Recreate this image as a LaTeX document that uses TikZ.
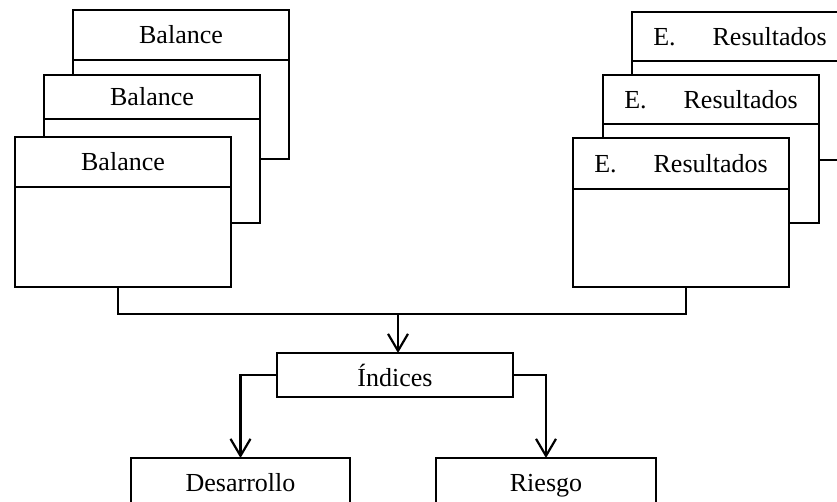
\documentclass[tikz,border=0pt]{standalone}
\usepackage{fontspec}
\setmainfont{Liberation Serif}
\usetikzlibrary{positioning,arrows.meta}

\begin{document}
\begin{tikzpicture}
          [x=1pt,y=-1pt,
          font=\fontsize{26}{30}\selectfont,
          head/.style={shape=rectangle,draw=black,fill=white,line width=2.2pt,outer sep=0pt,inner sep=0pt,minimum width=216pt,minimum height=50pt,anchor=north west},
          sheet/.style={shape=rectangle,draw=black,fill=white,line width=2.2pt,outer sep=0pt,inner sep=0pt,minimum width=216pt,minimum height=100pt,below=0pt of #1},
          box/.style={shape=rectangle,draw=black,fill=white,line width=2.2pt,outer sep=0pt,inner sep=0pt,minimum height=52pt},
          arc/.style={-{Straight Barb[length=17pt,width=20pt]},line width=2.2pt},
          edge/.style={line width=2.2pt}]

            \useasboundingbox (0,0) rectangle (837,501);
            \clip (0,0) rectangle (837,501);

            % left stack
            \node (balA) [head] at (73,10) {Balance\hspace{12pt}};
            \node (balAb) [sheet=balA,minimum height=99pt] {};
            \node (balB) [head,minimum height=44pt] at (44,75) {Balance\hspace{12pt}};
            \node (balBb) [sheet=balB,minimum height=104pt] {};
            \node (balC) [head] at (15,137) {Balance\hspace{12pt}};
            \node (balCb) [sheet=balC] {};

            % right stack
            \node (resA) [head,minimum height=49pt] at (632,12) {E.\hspace{37pt}Resultados};
            \node (resAb) [sheet=resA,minimum height=99pt] {};
            \node (resB) [head,minimum height=49pt] at (603,75) {E.\hspace{37pt}Resultados};
            \node (resBb) [sheet=resB,minimum height=99pt] {};
            \node (resC) [head,minimum height=51pt] at (573,138) {E.\hspace{37pt}Resultados};
            \node (resCb) [sheet=resC,minimum height=98pt] {};

            \coordinate (join) at (398,314);

            \node (ind) [box,minimum width=236pt,minimum height=44pt] at (395,375) {Índices};
            \node (des) [box,minimum width=219pt,minimum height=61pt,text height=0.75em,text depth=0.25em,anchor=north] at (240.5,458) {Desarrollo};
            \node (rsg) [box,minimum width=220pt,minimum height=61pt,text height=0.75em,text depth=0.25em,anchor=north] at (546,458) {Riesgo};

          \draw [edge] ([xshift=-5pt]balCb.south) |- (join) -| ([xshift=5pt]resCb.south);
            \draw [arc] (join) -- (join |- ind.north);
            \draw [arc] (ind.west) -| (des.north);
            \draw [arc] (ind.east) -| (rsg.north);

        \end{tikzpicture}
\end{document}
